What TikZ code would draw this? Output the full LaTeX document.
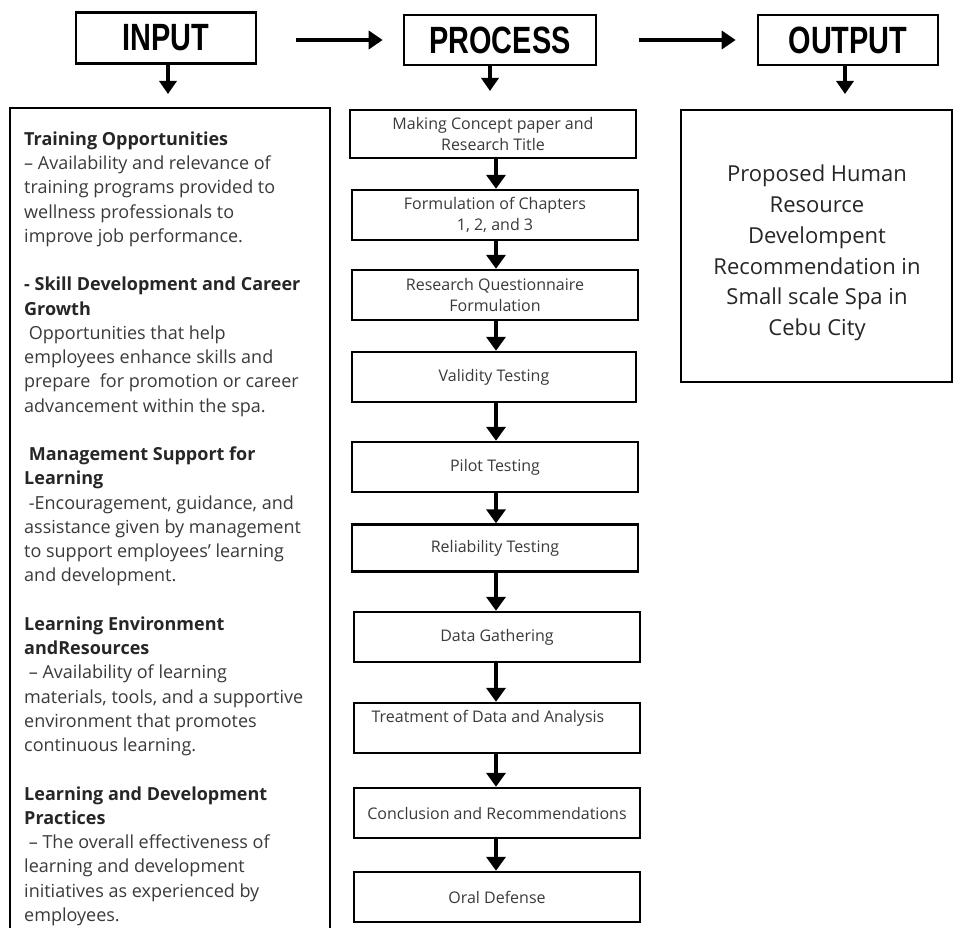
\documentclass[tikz,border=0pt]{standalone}
\usepackage{fontspec}
\setmainfont{Open Sans}
\newfontfamily\hdfont{Liberation Sans}
\usetikzlibrary{arrows.meta,calc}
\definecolor{txt}{HTML}{3A3A3A}
\tikzset{
  hbox/.style={draw=black,line width=2.6pt,minimum width=#1,minimum height=50pt,inner sep=0pt},
  pbox/.style={draw=black,line width=2.4pt,minimum width=286pt,minimum height=#1,inner sep=0pt,
    align=center,text=txt,font=\fontsize{16}{20.5}\selectfont},
  harrow/.style={line width=4pt,-{Triangle[width=18pt,length=14pt]}},
  darrow/.style={line width=3.5pt,-{Triangle[width=17pt,length=13pt]}},
  parrow/.style={line width=3.5pt,-{Triangle[width=19pt,length=14pt]}},
  hdtext/.style={font=\hdfont\bfseries\fontsize{38}{38}\selectfont},
}
\newcommand{\hdlab}[1]{\scalebox{0.76}[1]{#1}}
\begin{document}
\begin{tikzpicture}[x=1pt,y=-1pt]
\useasboundingbox[fill=white] (0,0) rectangle (954,928);
% headers
\node[hbox=180pt,minimum height=51pt,hdtext] (hin) at (166,38) {\hdlab{INPUT}};
\node[hbox=192pt,hdtext] (hproc) at (500,40) {\hdlab{PROCESS}};
\node[hbox=180pt,hdtext] (hout) at (848,40) {\hdlab{OUTPUT}};
\draw[harrow] ([xshift=39pt]hin.east |- hproc.west) -- ([xshift=-20pt]hproc.west);
\draw[harrow] ([xshift=42pt]hproc.east) -- ([xshift=-21pt]hout.west);
\coordinate (din) at (168,94);
\coordinate (dproc) at (490,91);
\coordinate (dout) at (845,94);
\draw[darrow] (hin.south -| din) -- (din);
\draw[darrow] (hproc.south -| dproc) -- (dproc);
\draw[darrow] (hout.south -| dout) -- (dout);
% input box
\draw[line width=2.4pt] (10,930) -- (10,108) -- (330,108) -- (330,930);
\node[anchor=north west,align=left,inner sep=0pt,text=txt,
  font=\fontsize{18}{24.25}\selectfont] (intext) at (24,131.5) {%
\textbf{\color{black!85}Training Opportunities}\\
– Availability and relevance of\\
training programs provided to\\
wellness professionals to\\
improve job performance.\\[24.25pt]
\textbf{\color{black!85}- Skill Development and Career}\\
\textbf{\color{black!85}Growth}\\
\ Opportunities that help\\
employees enhance skills and\\
prepare\ \ for promotion or career\\
advancement within the spa.\\[24.25pt]
\textbf{\color{black!85}\ Management Support for}\\
\textbf{\color{black!85}Learning}\\
\ -Encouragement, guidance, and\\
assistance given by management\\
to support employees’ learning\\
and development.\\[24.25pt]
\textbf{\color{black!85}Learning Environment}\\
\textbf{\color{black!85}andResources}\\
\ – Availability of learning\\
materials, tools, and a supportive\\
environment that promotes\\
continuous learning.\\[24.25pt]
\textbf{\color{black!85}Learning and Development}\\
\textbf{\color{black!85}Practices}\\
\ – The overall effectiveness of\\
learning and development\\
initiatives as experienced by\\
employees.};
% process boxes
\node[pbox=48pt] (p1) at (493,134) {Making Concept paper and\\Research Title};
\node[pbox=50pt] (p2) at (495,215) {Formulation of Chapters\\1, 2, and 3};
\node[pbox=50pt] (p3) at (495,295) {Research Questionnaire\\Formulation};
\node[pbox=50pt,minimum width=284pt] (p4) at (494,377) {Validity Testing};
\node[pbox=50pt] (p5) at (495,467) {Pilot Testing};
\node[pbox=47pt] (p6) at (495,548) {Reliability Testing};
\node[pbox=50pt] (p7) at (497,637) {Data Gathering};
\node[pbox=50pt] (p8) at (497,728) {};
\node[text=txt,font=\fontsize{16}{20.5}\selectfont,inner sep=0pt] (p8t) at (488,718) {Treatment of Data and Analysis};
\node[pbox=50pt] (p9) at (497,813) {Conclusion and Recommendations};
\node[pbox=50pt] (p10) at (497,897) {Oral Defense};
\coordinate (ax) at (496,0);
\foreach \a/\b in {p1/p2,p2/p3,p3/p4,p4/p5,p5/p6,p6/p7,p7/p8,p8/p9,p9/p10}{
  \draw[parrow] (\a.south -| ax) -- (\b.north -| ax);
}
% output box
\node[draw=black,line width=2.4pt,minimum width=271pt,minimum height=272pt,inner sep=0pt] (obox) at (816.5,246) {};
\node[align=center,text=black!85,font=\fontsize{22}{30.8}\selectfont,inner sep=0pt] (otext) at (817,253)
  {Proposed Human\\Resource\\Develompent\\Recommendation in\\Small scale Spa in\\Cebu City};
\end{tikzpicture}
\end{document}
